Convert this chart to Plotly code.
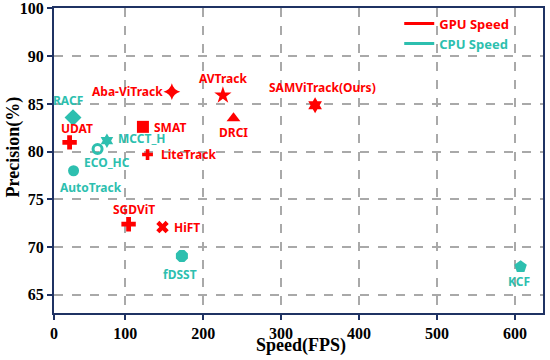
import plotly.graph_objects as go

# ---- data ----
gpu_names = ["UDAT", "Aba-ViTrack", "SMAT", "LiteTrack", "AVTrack", "DRCI",
             "SAMViTrack(Ours)", "SGDViT", "HiFT"]
gpu_speed = [28.6, 159.8, 122.7, 128.6, 225.3, 238.9, 343.6, 104.3, 147.8]
gpu_prec = [80.97, 86.28, 82.6, 79.7, 85.9, 83.5, 84.86, 72.4, 72.1]

cpu_names = ["RACF", "ECO_HC", "MCCT_H", "AutoTrack", "fDSST", "KCF"]
cpu_speed = [33.0, 64.5, 76.5, 33.7, 172.7, 607.3]
cpu_prec = [83.57, 80.28, 81.15, 78.0, 69.06, 67.95]

x_tickvals = [8.6, 100, 200, 300, 400, 500, 600]
x_ticktext = ["0", "100", "200", "300", "400", "500", "600"]
y_tickvals = [65, 70, 75, 80, 85, 90, 95]
y_ticktext = ["65", "70", "75", "80", "85", "90", "100"]

# ---- styles ----
RED = "#FF0000"
TEAL = "#2DBFAF"
NAVY = "#1F3263"
GRID = "#A9A9A9"
LABEL_FONT = dict(family="Noto Sans", size=12, weight="bold")
TITLE_FONT = dict(family="Liberation Serif", size=18, weight="bold", color="#000000")

gpu_style = {
    "UDAT": dict(symbol="cross", size=12, xshift=7, yshift=14, xanchor="center"),
    "Aba-ViTrack": dict(symbol="star-diamond", size=12, xshift=-7, yshift=0, xanchor="right"),
    "SMAT": dict(symbol="square", size=12, xshift=9, yshift=-1, xanchor="left"),
    "LiteTrack": dict(symbol="cross", size=9, xshift=11, yshift=0, xanchor="left"),
    "AVTrack": dict(symbol="star", size=13, xshift=0, yshift=17, xanchor="center"),
    "DRCI": dict(symbol="triangle-up", size=12, xshift=0, yshift=-14, xanchor="center"),
    "SAMViTrack(Ours)": dict(symbol="hexagram", size=12, xshift=7, yshift=18, xanchor="center"),
    "SGDViT": dict(symbol="cross", size=12, xshift=5, yshift=15, xanchor="center"),
    "HiFT": dict(symbol="x", size=11, xshift=10, yshift=0, xanchor="left"),
}
cpu_style = {
    "RACF": dict(symbol="diamond", size=13, xshift=-5, yshift=17, xanchor="center"),
    "ECO_HC": dict(symbol="circle-open", size=9, xshift=-16, yshift=-13, xanchor="left"),
    "MCCT_H": dict(symbol="hexagram", size=11, xshift=9, yshift=2, xanchor="left"),
    "AutoTrack": dict(symbol="circle", size=11, xshift=17, yshift=-17, xanchor="center"),
    "fDSST": dict(symbol="octagon", size=13, xshift=-2, yshift=-18, xanchor="center"),
    "KCF": dict(symbol="pentagon", size=13, xshift=-2, yshift=-15, xanchor="center"),
}

fig = go.Figure()
annotations = []

for names, xs, ys, color, styles in [
    (gpu_names, gpu_speed, gpu_prec, RED, gpu_style),
    (cpu_names, cpu_speed, cpu_prec, TEAL, cpu_style),
]:
    for n, x, y in zip(names, xs, ys):
        st = styles[n]
        open_sym = st["symbol"].endswith("open")
        fig.add_trace(go.Scatter(
            x=[x], y=[y], mode="markers", showlegend=False, name=n,
            marker=dict(symbol=st["symbol"], size=st["size"], color=color,
                        line=dict(width=3 if open_sym else 0, color=color)),
        ))
        annotations.append(dict(
            x=x, y=y, xref="x", yref="y", text=n, showarrow=False,
            xshift=st["xshift"], yshift=st["yshift"], xanchor=st["xanchor"],
            yanchor="middle", font=dict(color=color, **LABEL_FONT),
        ))

# axis titles
annotations.append(dict(x=0.5, y=0, xref="paper", yref="paper", text="Speed(FPS)",
                        showarrow=False, xanchor="center", yanchor="middle",
                        yshift=-32, xshift=2, font=TITLE_FONT))
annotations.append(dict(x=0, y=0.5, xref="paper", yref="paper", text="Precision(%)",
                        showarrow=False, xanchor="center", yanchor="middle",
                        xshift=-41, yshift=13, textangle=-90, font=TITLE_FONT))

# legend entries
for nm, color in [("GPU Speed", RED), ("CPU Speed", TEAL)]:
    fig.add_trace(go.Scatter(x=[None], y=[None], mode="lines",
                             name=f"<span style='color:{color}'>{nm}</span>",
                             line=dict(color=color, width=3)))

axis_common = dict(
    showline=True, linecolor=NAVY, linewidth=2, mirror=True,
    ticks="outside", ticklen=5, tickwidth=1.5, tickcolor=NAVY,
    showgrid=True, gridcolor=GRID, gridwidth=1.5, griddash="dash",
    zeroline=False, automargin=False,
    tickfont=dict(family="Liberation Serif", size=16, color="#000000", weight="bold"),
)

fig.update_layout(
    width=550, height=360,
    margin=dict(l=54, r=7, t=8, b=47, autoexpand=False),
    paper_bgcolor="white", plot_bgcolor="white",
    annotations=annotations,
    showlegend=True,
    legend=dict(x=0.706, y=0.998, xanchor="left", yanchor="top",
                bgcolor="rgba(0,0,0,0)", borderwidth=0,
                font=dict(family="Noto Sans", size=13, weight="bold"),
                tracegroupgap=0),
    xaxis=dict(range=[8.6, 636], tickvals=x_tickvals, ticktext=x_ticktext, **axis_common),
    yaxis=dict(range=[63.1, 95.05], tickvals=y_tickvals, ticktext=y_ticktext, **axis_common),
)

fig.write_html("out.html", config={"displayModeBar": False},
               post_script="document.body.style.margin='0px';")
